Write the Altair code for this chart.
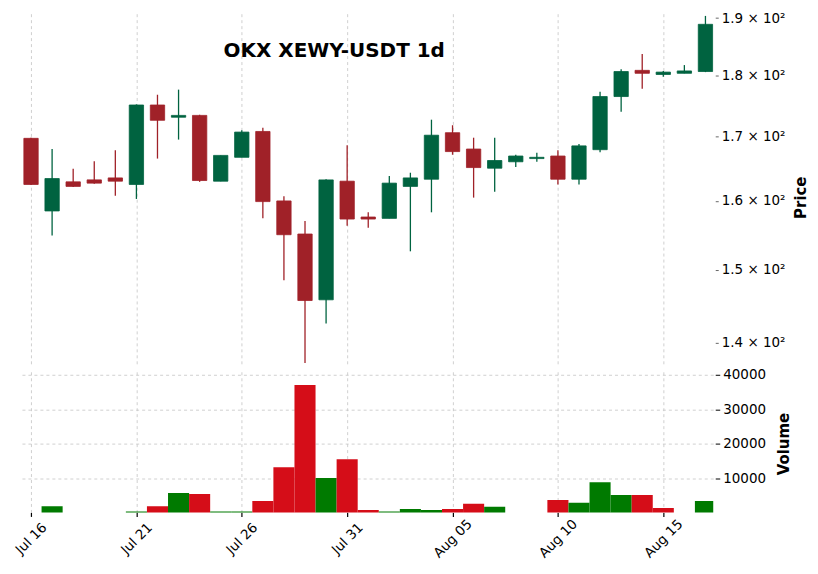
import altair as alt
import pandas as pd

date_labels = ["Jul 16", "Jul 17", "Jul 18", "Jul 19", "Jul 20", "Jul 21", "Jul 22", "Jul 23",
               "Jul 24", "Jul 25", "Jul 26", "Jul 27", "Jul 28", "Jul 29", "Jul 30", "Jul 31",
               "Aug 01", "Aug 02", "Aug 03", "Aug 04", "Aug 05", "Aug 06", "Aug 07", "Aug 08",
               "Aug 09", "Aug 10", "Aug 11", "Aug 12", "Aug 13", "Aug 14", "Aug 15", "Aug 16",
               "Aug 17"]
opens = [169.7, 158.5, 162.9, 163.2, 163.5, 162.5, 175.1, 173.1, 173.4, 163.0, 166.7, 170.8,
         160.0, 155.1, 145.8, 163.0, 157.6, 157.4, 162.2, 163.3, 170.6, 168.0, 165.0, 166.0,
         166.5, 166.9, 163.3, 167.9, 176.5, 180.9, 180.2, 180.4, 180.7]
highs = [169.8, 168.0, 164.9, 166.1, 167.8, 175.2, 176.8, 177.65, 173.5, 167.0, 171.0, 171.4,
         160.7, 157.0, 163.3, 168.6, 158.3, 163.8, 164.3, 172.7, 171.8, 169.8, 169.8, 167.1,
         167.4, 167.8, 168.8, 177.3, 181.1, 183.7, 180.8, 181.8, 190.4]
lows = [162.4, 154.9, 162.1, 162.6, 160.8, 160.3, 166.5, 169.5, 162.9, 163.0, 166.7, 157.4,
        148.5, 137.4, 142.6, 156.3, 156.0, 157.4, 152.6, 158.3, 167.1, 160.5, 161.4, 165.2,
        166.0, 162.5, 162.5, 167.5, 174.0, 177.8, 179.8, 180.4, 180.6]
closes = [162.5, 163.4, 162.2, 162.7, 163.0, 175.1, 172.6, 173.4, 163.1, 167.0, 170.7, 159.9,
          155.0, 145.7, 163.2, 157.3, 157.3, 162.7, 163.5, 170.2, 167.6, 165.1, 166.2, 166.9,
          166.7, 163.3, 168.5, 176.5, 180.7, 180.4, 180.6, 180.8, 188.9]
volumes = [100, 2100, 100, 100, 100, 600, 2100, 5900, 5600, 600, 600, 3600,
           13300, 37000, 10200, 15600, 1000, 600, 1300, 1000, 1300, 2800, 1900, 100,
           100, 3900, 3100, 9000, 5300, 5300, 1600, 100, 3600]
volume_dir = ["vdown", "vup", "vdown", "vdown", "vdown", "vup", "vdown", "vup", "vdown", "vup", "vup", "vdown",
              "vdown", "vdown", "vup", "vdown", "vdown", "vup", "vup", "vup", "vdown", "vdown", "vup", "vup",
              "vup", "vdown", "vup", "vup", "vup", "vdown", "vdown", "vup", "vup"]
tick_index = [0, 5, 10, 15, 20, 25, 30]
price_ticks = [140, 150, 160, 170, 180, 190]
volume_ticks = [10000, 20000, 30000, 40000]

df = pd.DataFrame({
    "i": list(range(len(date_labels))),
    "date": date_labels,
    "open": opens, "high": highs, "low": lows, "close": closes,
    "volume": volumes, "vdir": volume_dir,
})
df["dir"] = ["up" if c >= o else "down" for o, c in zip(opens, closes)]

FONT = "DejaVu Sans"
W = 693
label_arr = "[" + ",".join("'" + d + "'" for d in date_labels) + "]"
xscale = alt.Scale(domain=[-0.43, 32.37], nice=False, zero=False)
grid_kw = dict(grid=True, gridDash=[3, 3], gridColor="#c4c4c4", gridWidth=0.8)

cscale = alt.Scale(domain=["up", "down"], range=["#006340", "#a02128"])
candle_color = alt.Color("dir:N", scale=cscale, legend=None)
price_y = alt.Scale(type="log", domain=[136.9, 190.8], nice=False, zero=False)
price_axis = alt.Axis(orient="right", values=price_ticks, labelExpr="format(datum.value/100, '.1f') + ' × 10²'",
                      grid=False, domain=False, offset=2, tickSize=3, tickColor="#666666", labelFontSize=13.5,
                      labelColor="#000000", labelPadding=3, title="Price", titleFontSize=15,
                      titleFontWeight="bold", titleAngle=270, titleAlign="center", titleBaseline="middle",
                      titleX=85, titleY=184, titleColor="#000000")

base = alt.Chart(df)
wicks = base.mark_rule(strokeWidth=1.3).encode(
    x=alt.X("i:Q", scale=xscale, axis=alt.Axis(values=tick_index, labels=False, ticks=False, domain=False, title=None, **grid_kw)),
    y=alt.Y("low:Q", scale=price_y, axis=price_axis),
    y2="high:Q",
    color=candle_color,
)
bodies = base.transform_calculate(
    x_lo="datum.i - 0.34", x_hi="datum.i + 0.34"
).mark_bar(strokeWidth=0.8).encode(
    x="x_lo:Q", x2="x_hi:Q",
    y="open:Q", y2="close:Q",
    color=candle_color,
    stroke=alt.Stroke("dir:N", scale=cscale, legend=None),
)
title = alt.Chart(alt.Data(values=[{"t": "OKX XEWY-USDT 1d"}])).mark_text(
    font=FONT, fontSize=20, fontWeight="bold", align="center", baseline="middle", color="#000000"
).encode(x=alt.value(313), y=alt.value(37), text="t:N")

price = alt.layer(wicks, bodies, title).properties(width=W, height=354)

volume = alt.Chart(df).transform_calculate(
    v_lo="datum.i - 0.5", v_hi="datum.i + 0.5", base="0"
).mark_bar(clip=True).encode(
    x=alt.X("v_lo:Q", scale=xscale, axis=alt.Axis(values=tick_index, labelExpr=label_arr + "[datum.value]",
            labelAngle=315, labelAlign="center", labelBaseline="middle", labelFontSize=13.5, labelColor="#000000",
            labelPadding=22, tickSize=4, tickColor="#000000", tickWidth=1.2, domain=False, title=None, **grid_kw)),
    x2="v_hi:Q",
    y=alt.Y("volume:Q", scale=alt.Scale(domain=[300, 40770], nice=False, zero=False),
            axis=alt.Axis(orient="right", values=volume_ticks, format="d", domain=False, offset=2, tickSize=4.5,
                          tickColor="#000000", labelFontSize=13.5, labelColor="#000000", labelPadding=3,
                          title="Volume", titleFontSize=15, titleFontWeight="bold", titleAngle=270,
                          titleAlign="center", titleBaseline="middle", titleX=68, titleY=72,
                          titleColor="#000000", **grid_kw)),
    y2="base:Q",
    color=alt.Color("vdir:N", scale=alt.Scale(domain=["vup", "vdown"], range=["#007a00", "#d50d18"]), legend=None),
).properties(width=W, height=141)

chart = alt.vconcat(price, volume, spacing=0).resolve_scale(
    color="independent", stroke="independent"
).properties(
    padding={"left": 4, "top": 2, "right": 2, "bottom": 0}
).configure(font=FONT).configure_view(stroke=None)

chart.save("out.html", embed_options={"renderer": "svg", "actions": False})
